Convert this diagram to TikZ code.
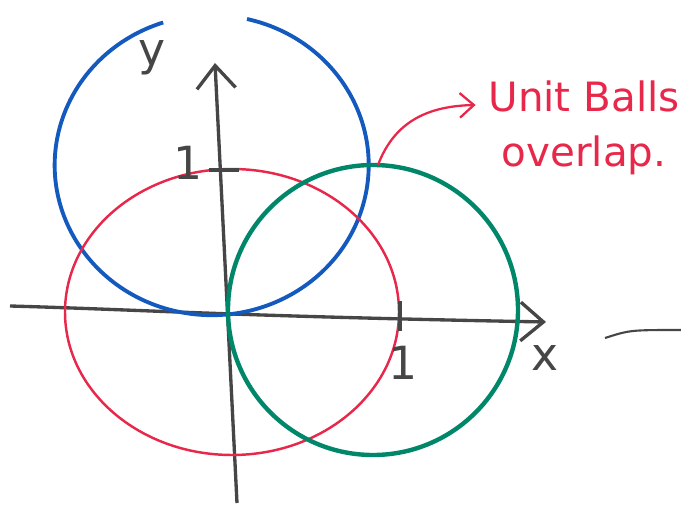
\documentclass[tikz,border=0pt]{standalone}
\usepackage{fontspec}
\setsansfont{DejaVu Sans}
\usepackage{xcolor}
\usepackage{tikz}
\usetikzlibrary{arrows.meta,positioning}

\definecolor{axisgray}{RGB}{70,70,70}
\definecolor{ballblue}{RGB}{20,90,190}
\definecolor{ballred}{RGB}{232,40,75}
\definecolor{ballgreen}{RGB}{0,135,105}

\begin{document}
\begin{tikzpicture}[
  x=0.02cm, y=-0.02cm,
  axis/.style={draw=axisgray, line width=1.9pt, -{Straight Barb[length=13pt,width=22pt,line width=1.9pt]}},
  ballline/.style={line width=2.2pt},
  tick/.style={draw=axisgray, line width=2pt},
  lbl/.style={text=axisgray, font=\sffamily\fontsize{26}{30}\selectfont, inner sep=0pt},
  note/.style={text=ballred, font=\sffamily\fontsize{23}{31}\selectfont, align=center, inner sep=0pt}
]
\useasboundingbox (0,0) rectangle (681,507);

% axes
\coordinate (xstart) at (10,306);
\coordinate (xend) at (546,322);
\coordinate (ystart) at (237,503);
\coordinate (yend) at (215,63);
\draw[axis] (xstart) .. controls (150,310) and (228,316) .. (xend);
\draw[axis] (ystart) -- (yend);

% unit balls
\coordinate (bluegap) at (247,19);
\draw[ballline, draw=ballblue] (bluegap) arc [start angle=283, end angle=612, x radius=157, y radius=150];
\draw[ballline, draw=ballred, line width=1.4pt] (232,312) ellipse [x radius=167, y radius=143];
\draw[ballline, draw=ballgreen, line width=2.5pt] (373,310) ellipse [x radius=145, y radius=145];

% ticks and labels
\coordinate (xtick) at (400,316);
\coordinate (ytick) at (224,170);
\draw[tick] ([yshift=-0.3cm]xtick) -- ([yshift=0.3cm]xtick);
\draw[tick] ([xshift=-0.3cm]ytick) -- ([xshift=0.3cm]ytick);
\node[lbl] (xone) at (403,363) {1};
\node[lbl] (yone) at (188,163) {1};
\node[lbl] (xname) at (545,358) {x};
\node[lbl] (yname) at (152,58) {y};

% note
\coordinate (gtop) at (378,165);
\node[note] (balls) at (584,128) {Unit Balls\\overlap.};
\draw[draw=ballred, line width=1.3pt, -{Straight Barb[length=8pt,width=14pt]}]
  (gtop) .. controls (395,120) and (430,106) .. ([xshift=-0.25cm]balls.west |- 0,105);

% stray stroke
\coordinate (dasha) at (605,338);
\coordinate (dashb) at (681,330);
\draw[draw=axisgray, line width=1.2pt] (dasha) .. controls (630,330) .. (dashb);

\end{tikzpicture}
\end{document}
